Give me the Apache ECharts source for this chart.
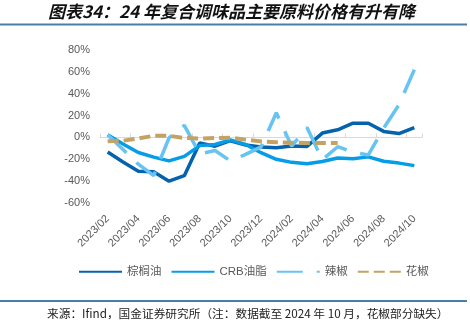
<!DOCTYPE html>
<html>
<head>
<meta charset="utf-8">
<script src="https://cdn.jsdelivr.net/npm/echarts@6/dist/echarts.min.js"></script>
<style>html,body{margin:0;padding:0;background:#fff}#c{width:470px;height:330px}</style>
</head>
<body>
<div id="c"></div>
<script>
const categories = ['2023/02','2023/03','2023/04','2023/05','2023/06','2023/07','2023/08','2023/09','2023/10','2023/11','2023/12','2024/01','2024/02','2024/03','2024/04','2024/05','2024/06','2024/07','2024/08','2024/09','2024/10'];
const palmOil = [-13.3,-22.5,-31,-31.5,-40,-35,-5,-8,-3,-7,-8.8,-9.5,-7.8,-8.2,4,7,13,13,5.5,3.5,9];
const crbOil = [2.5,-6,-13.8,-18,-21.5,-17.3,-7.5,-6.5,-2.3,-6.5,-14,-20,-22.8,-24,-22,-18.8,-19.5,-17.8,-21.8,-23.5,-25.8];
const chili = [2.5,-11,-24.5,-35,-0.5,11,-15,-12,-21.5,-15.5,-8.7,22.5,-8,9,-20.5,-8.5,-13.5,-16,8.5,30,62];
const pepper = [-3.5,-3,-1,1.5,1.5,-0.5,-1,-0.5,-0.3,-2,-3.6,-4.4,-4.8,-5.1,-5.1,-5.2,null,null,null,null,null];
const yTicks = {min:-60, max:80, interval:20};

const chart = echarts.init(document.getElementById('c'));
const gray = '#595959';
const font = '"Liberation Sans", Arial, "Noto Sans CJK SC", sans-serif';
chart.setOption({
  animation: false,
  grid: {left: 100, right: 48, top: 50, bottom: 127},
  xAxis: [
    {type: 'category', data: categories, boundaryGap: true,
     axisLine: {show: false, onZero: false}, axisTick: {show: false},
     axisLabel: {interval: 1, rotate: 45, margin: 14, fontSize: 11, color: gray, fontFamily: font}},
    {type: 'category', data: categories, boundaryGap: true, position: 'bottom',
     axisLine: {show: true, onZero: true, lineStyle: {color: '#d9d9d9', width: 1}},
     axisTick: {show: true, inside: true, length: 4, interval: 1, lineStyle: {color: '#d9d9d9'}},
     axisLabel: {show: false}}
  ],
  yAxis: {type: 'value', min: yTicks.min, max: yTicks.max, interval: yTicks.interval,
    splitLine: {show: false}, axisLine: {show: false}, axisTick: {show: false},
    axisLabel: {formatter: '{value}%', fontSize: 11, color: gray, margin: 10, fontFamily: font}},
  legend: {left: 78, top: 266, padding: 0, itemWidth: 43, itemHeight: 12, itemGap: 9,
    itemStyle: {opacity: 0},
    textStyle: {fontSize: 11.5, color: gray, fontFamily: font},
    data: ['棕榈油','CRB油脂','辣椒','花椒']},
  series: [
    {name: '棕榈油', type: 'line', data: palmOil, symbol: 'none', lineStyle: {color: '#0563ad', width: 3.5}, itemStyle: {color: '#0563ad'}},
    {name: 'CRB油脂', type: 'line', data: crbOil, symbol: 'none', lineStyle: {color: '#069de6', width: 3.5}, itemStyle: {color: '#069de6'}},
    {name: '辣椒', type: 'line', data: chili, symbol: 'none', lineStyle: {color: '#66c3f2', width: 3.5, type: [26, 14], cap: 'butt'}, itemStyle: {color: '#66c3f2'}},
    {name: '花椒', type: 'line', data: pepper, symbol: 'none', lineStyle: {color: '#c4a263', width: 4, type: [11, 5], cap: 'butt'}, itemStyle: {color: '#c4a263'}}
  ],
  graphic: [
    {type: 'text', left: 48, top: 3, style: {text: '图表34：24 年复合调味品主要原料价格有升有降', font: 'italic bold 17px "Noto Sans CJK SC"', fill: '#111'}},
    {type: 'line', shape: {x1: 0, y1: 24.5, x2: 467, y2: 24.5}, style: {stroke: '#4b7ea6', lineWidth: 2}},
    {type: 'line', shape: {x1: 0, y1: 301, x2: 467, y2: 301}, style: {stroke: '#4b7ea6', lineWidth: 2}},
    {type: 'text', left: 47, top: 308, style: {text: '来源：Ifind，国金证券研究所（注：数据截至 2024 年 10 月，花椒部分缺失）', font: '11.7px "Noto Sans CJK SC"', fill: '#222'}}
  ]
});
</script>
</body>
</html>
